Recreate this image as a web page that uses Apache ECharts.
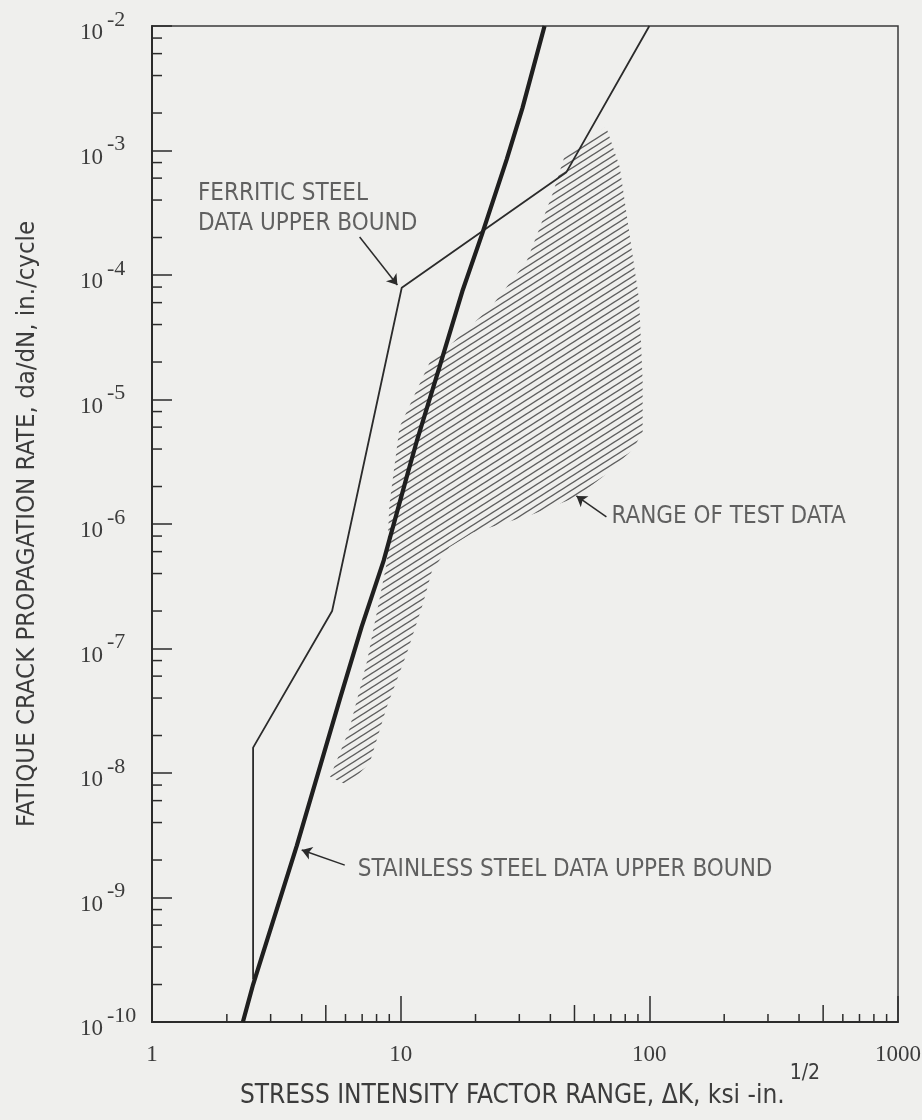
<!DOCTYPE html>
<html>
<head>
<meta charset="utf-8">
<script src="https://cdn.jsdelivr.net/npm/echarts@6.0.0/dist/echarts.min.js"></script>
<style>
html, body { margin: 0; padding: 0; background: #efefed; }
#chart { width: 922px; height: 1120px; }
</style>
</head>
<body>
<div id="chart"></div>
<script>
// Fatigue crack growth: ΔK (ksi·in^1/2) against da/dN (in./cycle), log–log.

// Stainless steel data upper bound
const stainlessBound = [
  [2.32, 1e-10], [2.55, 2.0e-10], [3.82, 2.6e-9], [5.69, 3.9e-8], [6.97, 1.5e-7],
  [8.55, 5.1e-7], [10.7, 2.6e-6], [11.6, 4.6e-6], [14.3, 1.8e-5], [17.7, 7.4e-5],
  [21.2, 2.1e-4], [26.7, 8.5e-4], [30.9, 2.2e-3], [37.9, 1e-2]
];

// Ferritic steel data upper bound
const ferriticBound = [
  [2.55, 2.2e-10], [2.55, 1.6e-8], [5.3, 2.0e-7], [10.1, 7.9e-5], [46.4, 6.7e-4], [100, 1e-2]
];

// Outline of the range of test data (hatched)
const testDataRange = [
  [67, 1.55e-3], [76, 7.4e-4], [85, 1.6e-4], [91, 6.3e-5], [94, 1.4e-5], [94, 5.4e-6],
  [85, 3.9e-6], [65, 2.4e-6], [51, 1.65e-6], [34, 1.2e-6], [19.5, 8.5e-7], [15.7, 6.5e-7],
  [13.4, 4.3e-7], [12.3, 2.3e-7], [10.6, 9.2e-8], [8.8, 3.4e-8], [7.5, 1.2e-8], [6.1, 8e-9],
  [5.2, 9.3e-9], [6.2, 2.2e-8], [7.3, 7.7e-8], [8.8, 4.9e-7], [9.0, 1.4e-6], [9.9, 6e-6],
  [13.1, 2e-5], [15.7, 2.7e-5], [23, 5.5e-5], [32, 1.27e-4], [35, 2e-4], [41, 4.6e-4], [46, 9.5e-4]
];

// Callout texts, their anchor points and leader arrows
const annotationTexts = ['FERRITIC STEEL\nDATA UPPER BOUND', 'STAINLESS STEEL DATA UPPER BOUND', 'RANGE OF TEST DATA'];
const annotationAnchors = [[1.53, 3.39e-4], [6.72, 1.66e-9], [70.4, 1.14e-6]];
const arrowPaths = [
  [[6.84, 2.02e-4], [9.7, 8.3e-5]],
  [[5.96, 1.82e-9], [4.0, 2.41e-9]],
  [[67.2, 1.14e-6], [50.9, 1.68e-6]]
];

// Axis tick labels
const xTickLabels = ['1', '10', '100', '1000'];
const yTickExponents = ['-10', '-9', '-8', '-7', '-6', '-5', '-4', '-3', '-2'];
const X_MIN = 1, X_MAX = 1000, Y_MIN = 1e-10, Y_MAX = 1e-2;

// Minor tick positions: 2..9 per decade on ΔK, 2,4,6,8 per decade on da/dN
const xMinorTicks = [];
[1, 10, 100].forEach(d => { for (let m = 2; m <= 9; m++) xMinorTicks.push(m * d); });
const yMinorTicks = [];
for (let e = -10; e <= -3; e++) [2, 4, 6, 8].forEach(m => yMinorTicks.push(m * Math.pow(10, e)));

const TEXT_FONT = "'DejaVu Sans Condensed', 'Liberation Sans Narrow', 'DejaVu Sans', sans-serif";
const NUM_FONT = "'Liberation Serif', 'DejaVu Serif', serif";
const INK = '#2b2b2b';
const TEXT_INK = '#3c3c3c';

function makeHatchTile() {
  const W = 11, H = 7;
  const c = document.createElement('canvas');
  c.width = W; c.height = H;
  const g = c.getContext('2d');
  g.strokeStyle = '#5e5e5e';
  g.lineWidth = 1.4;
  for (let k = -1; k <= 1; k++) {
    g.beginPath();
    g.moveTo(-W, 2 * H + k * H);
    g.lineTo(2 * W, -H + k * H);
    g.stroke();
  }
  return c;
}
const hatchFill = { image: makeHatchTile(), repeat: 'repeat' };

const chart = echarts.init(document.getElementById('chart'), null, { renderer: 'canvas' });

chart.setOption({
  animation: false,
  backgroundColor: '#efefed',
  grid: {
    left: 152, right: 24, top: 26, bottom: 98,
    show: true, borderColor: '#3a3a3a', borderWidth: 1.5,
    outerBoundsMode: 'none'
  },
  xAxis: {
    type: 'log', logBase: 10, min: X_MIN, max: X_MAX, splitNumber: 3,
    axisLine: { show: true, lineStyle: { color: INK, width: 2 } },
    axisTick: { show: true, inside: true, length: 26, lineStyle: { color: INK, width: 1.5 } },
    minorTick: { show: false },
    splitLine: { show: false },
    axisLabel: {
      showMinLabel: true, showMaxLabel: true,
      margin: 21, color: TEXT_INK, fontFamily: NUM_FONT, fontSize: 23,
      formatter: v => xTickLabels[Math.round(Math.log10(v))]
    },
    name: '{t|STRESS INTENSITY FACTOR RANGE, \u0394K, ksi -in.}{s|1/2}',
    nameLocation: 'middle',
    nameGap: 51,
    nameMoveOverlap: false,
    nameTextStyle: {
      rich: {
        t: { fontFamily: TEXT_FONT, fontSize: 26, lineHeight: 28, color: TEXT_INK, padding: [18, 0, 0, 10] },
        s: { fontFamily: TEXT_FONT, fontSize: 21, lineHeight: 21, color: TEXT_INK, padding: [0, 0, 26, 5] }
      }
    }
  },
  yAxis: {
    type: 'log', logBase: 10, min: Y_MIN, max: Y_MAX, splitNumber: 8,
    axisLine: { show: true, lineStyle: { color: INK, width: 2 } },
    axisTick: { show: true, inside: true, length: 20, lineStyle: { color: INK, width: 1.5 } },
    minorTick: { show: false },
    splitLine: { show: false },
    axisLabel: {
      showMinLabel: true, showMaxLabel: true,
      align: 'left', margin: 72,
      formatter: v => '{b|10}{s|' + yTickExponents[Math.round(Math.log10(v)) + 10] + '}',
      rich: {
        b: { fontFamily: NUM_FONT, fontSize: 23, lineHeight: 22, color: TEXT_INK, padding: [14, 0, 0, 0] },
        s: { fontFamily: NUM_FONT, fontSize: 22, lineHeight: 22, color: TEXT_INK, padding: [0, 0, 12, 4] }
      }
    },
    name: 'FATIQUE CRACK PROPAGATION RATE, da/dN, in./cycle',
    nameLocation: 'middle',
    nameRotate: 90,
    nameGap: 112,
    nameMoveOverlap: false,
    nameTextStyle: { fontFamily: TEXT_FONT, fontSize: 25.5, color: TEXT_INK }
  },
  series: [
    {
      // hatched band of test data
      type: 'custom',
      z: 1,
      data: testDataRange,
      renderItem: (params, api) => {
        if (params.dataIndex !== 0) return;
        const pts = testDataRange.map(p => api.coord(p));
        return { type: 'polygon', shape: { points: pts }, style: { fill: hatchFill, stroke: null } };
      }
    },
    {
      type: 'line', z: 3, data: ferriticBound, showSymbol: false, symbol: 'none',
      lineStyle: { color: INK, width: 1.8 }
    },
    {
      type: 'line', z: 4, data: stainlessBound, showSymbol: false, symbol: 'none',
      lineStyle: { color: '#1f1f1f', width: 4.2 }
    },
    {
      // minor ticks along ΔK axis
      type: 'custom', z: 5,
      data: xMinorTicks.map(v => [v, Y_MIN]),
      renderItem: (params, api) => {
        const v = api.value(0);
        const p = api.coord([v, api.value(1)]);
        const mant = v / Math.pow(10, Math.floor(Math.log10(v) + 1e-9));
        const len = Math.abs(mant - 5) < 1e-6 ? 17 : 8;
        return { type: 'line', shape: { x1: p[0], y1: p[1], x2: p[0], y2: p[1] - len }, style: { stroke: INK, lineWidth: 1.5 } };
      }
    },
    {
      // minor ticks along da/dN axis
      type: 'custom', z: 5,
      data: yMinorTicks.map(v => [X_MIN, v]),
      renderItem: (params, api) => {
        const p = api.coord([api.value(0), api.value(1)]);
        return { type: 'line', shape: { x1: p[0], y1: p[1], x2: p[0] + 10, y2: p[1] }, style: { stroke: INK, lineWidth: 1.5 } };
      }
    },
    {
      type: 'lines', coordinateSystem: 'cartesian2d', z: 6,
      data: arrowPaths.map(c => ({ coords: c })),
      symbol: ['none', 'arrow'], symbolSize: 10,
      lineStyle: { color: INK, width: 1.5, opacity: 1, curveness: 0 }
    },
    {
      type: 'scatter', z: 6, symbolSize: 0,
      data: annotationAnchors.map((p, i) => ({ value: p, label: { formatter: annotationTexts[i] } })),
      label: {
        show: true, position: 'right', distance: 0,
        color: TEXT_INK, fontFamily: TEXT_FONT, fontSize: 24, lineHeight: 30
      }
    }
  ]
});
</script>
</body>
</html>
